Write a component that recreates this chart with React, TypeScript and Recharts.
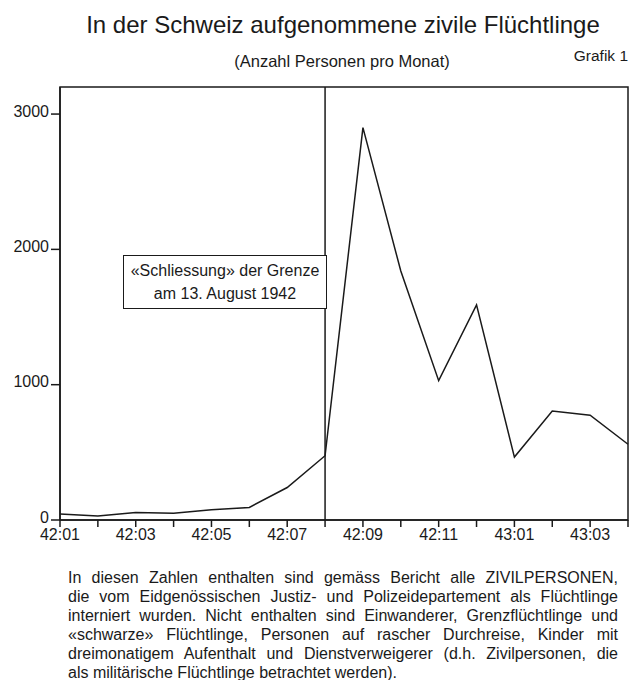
import {
  LineChart,
  Line,
  XAxis,
  YAxis,
  ReferenceLine,
  ReferenceArea,
} from 'recharts'

const months = [
  '42:01', '42:02', '42:03', '42:04', '42:05', '42:06', '42:07', '42:08',
  '42:09', '42:10', '42:11', '42:12', '43:01', '43:02', '43:03', '43:04',
]
const refugees = [45, 30, 55, 50, 75, 93, 240, 475, 2900, 1840, 1030, 1590, 465, 805, 775, 560]
const labeledMonths = ['42:01', '42:03', '42:05', '42:07', '42:09', '42:11', '43:01', '43:03']
const yTicks = [0, 1000, 2000, 3000]

const noteLines = [
  'In diesen Zahlen enthalten sind gemäss Bericht alle ZIVILPERSONEN,',
  'die vom Eidgenössischen Justiz- und Polizeidepartement als Flüchtlinge',
  'interniert wurden. Nicht enthalten sind Einwanderer, Grenzflüchtlinge und',
  '«schwarze» Flüchtlinge, Personen auf rascher Durchreise, Kinder mit',
  'dreimonatigem Aufenthalt und Dienstverweigerer (d.h. Zivilpersonen, die',
  'als militärische Flüchtlinge betrachtet werden).',
]

const data = months.map((m, i) => ({ month: m, value: refugees[i] }))

const font = '"Liberation Sans", Arial, Helvetica, sans-serif'
const ink = '#1a1a1a'

export default function App() {
  return (
    <div
      style={{
        position: 'absolute',
        left: 0,
        top: 0,
        width: 634,
        height: 680,
        background: '#fff',
        fontFamily: font,
        color: ink,
      }}
    >
      <div
        style={{
          position: 'absolute',
          left: 0,
          width: 686,
          top: 10,
          textAlign: 'center',
          fontSize: 24,
          lineHeight: '30px',
        }}
      >
        In der Schweiz aufgenommene zivile Flüchtlinge
      </div>
      <div
        style={{
          position: 'absolute',
          left: 0,
          width: 684,
          top: 51,
          textAlign: 'center',
          fontSize: 16.5,
          lineHeight: '20px',
        }}
      >
        (Anzahl Personen pro Monat)
      </div>
      <div
        style={{
          position: 'absolute',
          right: 6,
          top: 46,
          fontSize: 15.5,
          lineHeight: '20px',
        }}
      >
        Grafik 1
      </div>

      <div style={{ position: 'absolute', left: 0, top: 0 }}>
        <LineChart
          width={634}
          height={560}
          data={data}
          margin={{ top: 87, right: 6, left: 0, bottom: 0 }}
        >
          <XAxis
            dataKey="month"
            height={40}
            interval={0}
            tickSize={7}
            tickLine={{ stroke: ink, strokeWidth: 1.5 }}
            axisLine={{ stroke: ink, strokeWidth: 1.5 }}
            tick={{ fontSize: 16, fill: ink, fontFamily: font }}
            tickFormatter={(v: string) => (labeledMonths.includes(v) ? v : '')}
          />
          <YAxis
            width={60}
            domain={[0, 3200]}
            ticks={yTicks}
            tickSize={9}
            tickMargin={2}
            tickLine={{ stroke: ink, strokeWidth: 1.5 }}
            axisLine={{ stroke: ink, strokeWidth: 1.5 }}
            tick={{ fontSize: 16, fill: ink, fontFamily: font, dy: -3 }}
          />
          <ReferenceArea
            x1="42:01"
            x2="43:04"
            y1={0}
            y2={3200}
            fill="none"
            stroke={ink}
            strokeWidth={1.5}
          />
          <ReferenceLine x="42:08" stroke={ink} strokeWidth={1.5} />
          <Line
            type="linear"
            dataKey="value"
            stroke={ink}
            strokeWidth={1.5}
            dot={false}
            isAnimationActive={false}
          />
        </LineChart>
      </div>

      <div
        style={{
          position: 'absolute',
          left: 123,
          top: 255,
          width: 204,
          height: 54,
          boxSizing: 'border-box',
          border: `1.5px solid ${ink}`,
          background: '#fff',
          textAlign: 'center',
          fontSize: 16,
          lineHeight: '23px',
          paddingTop: 3,
        }}
      >
        «Schliessung» der Grenze
        <br />
        am 13. August 1942
      </div>

      <div
        style={{
          position: 'absolute',
          left: 68,
          top: 568,
          width: 550,
          fontSize: 16,
          lineHeight: '19px',
        }}
      >
        {noteLines.map((line, i) => (
          <div
            key={i}
            style={{
              whiteSpace: 'nowrap',
              textAlign: 'justify',
              textAlignLast: i < noteLines.length - 1 ? 'justify' : 'left',
            }}
          >
            {line}
          </div>
        ))}
      </div>
    </div>
  )
}
